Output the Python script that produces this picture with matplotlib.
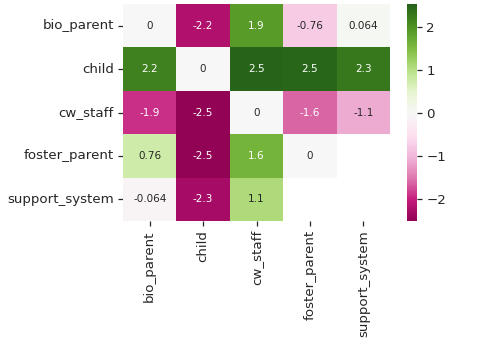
import numpy as np
import pandas as pd
import matplotlib
matplotlib.use("Agg")
import matplotlib.pyplot as plt
import seaborn as sns

roles = ["bio_parent", "child", "cw_staff", "foster_parent", "support_system"]

bio_parent = [0, -2.2, 1.9, -0.76, 0.064]
child = [2.2, 0, 2.54, 2.5, 2.3]
cw_staff = [-1.9, -2.5, 0, -1.6, -1.1]
foster_parent = [0.76, -2.5, 1.6, 0, np.nan]
support_system = [-0.064, -2.3, 1.1, np.nan, np.nan]

data = pd.DataFrame([bio_parent, child, cw_staff, foster_parent, support_system],
                    index=roles, columns=roles)

sns.set_theme(style="ticks")

fig = plt.figure(figsize=(4.99, 3.44), dpi=100)
ax = fig.add_axes([0.2465, 0.3576, 0.5351, 0.6304])
cax = fig.add_axes([0.8156, 0.3576, 0.0205, 0.6304])

sns.heatmap(data, cmap="PiYG", center=0, annot=True, fmt=".2g",
            annot_kws={"size": 7.5}, ax=ax, cbar_ax=cax)

ax.tick_params(labelsize=9.6, length=3.5, width=0.9, pad=3)
cax.tick_params(labelsize=9.6, length=3.5, width=0.9, pad=3)

fig.savefig("out.png", dpi=100)
